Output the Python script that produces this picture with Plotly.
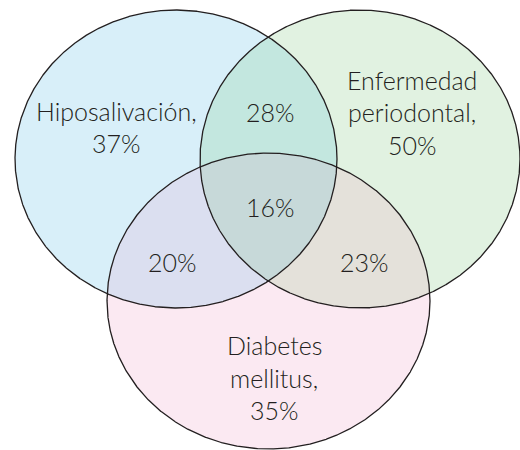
import numpy as np
import plotly.graph_objects as go

# ---- data ----
set_names = ["Hiposalivación", "Enfermedad periodontal", "Diabetes mellitus"]
set_label_lines = [["Hiposalivación,", "37%"],
                   ["Enfermedad", "periodontal,", "50%"],
                   ["Diabetes", "mellitus,", "35%"]]
set_values = [37, 50, 35]
pair_names = ["Hiposalivación ∩ Enfermedad periodontal",
              "Hiposalivación ∩ Diabetes mellitus",
              "Enfermedad periodontal ∩ Diabetes mellitus"]
pair_values = [28, 20, 23]
triple_value = 16

# ---- layout geometry (pixel-like data coordinates) ----
ellipses = [
    dict(cx=176, cy=159, rx=161, ry=149),   # Hiposalivación
    dict(cx=360, cy=159, rx=160, ry=149),   # Enfermedad periodontal
    dict(cx=268.5, cy=301, rx=161.5, ry=148),  # Diabetes mellitus
]
base_colors = ["#d8eff9", "#e1f2e1", "#fbe9f2"]
pair_sets = [(0, 1), (0, 2), (1, 2)]
pair_colors = ["#c3e7df", "#dbdff0", "#e4e1da"]
triple_color = "#c7d9d9"

set_label_pos = [(116, [111, 143]), (412, [80, 112, 145]), (274, [345, 378, 410])]
pair_label_pos = [(270, 112), (172, 262), (364, 262)]
triple_label_pos = (270, 207)

N = 3000


def ell_pts(e):
    t = np.linspace(0, 2 * np.pi, N, endpoint=False)
    return e["cx"] + e["rx"] * np.cos(t), e["cy"] + e["ry"] * np.sin(t)


def inside(x, y, e):
    return ((x - e["cx"]) / e["rx"]) ** 2 + ((y - e["cy"]) / e["ry"]) ** 2 <= 1 + 1e-9


def region(idx):
    xs, ys = [], []
    for i in idx:
        x, y = ell_pts(ellipses[i])
        m = np.ones_like(x, dtype=bool)
        for j in idx:
            if j != i:
                m &= inside(x, y, ellipses[j])
        xs.append(x[m]); ys.append(y[m])
    x = np.concatenate(xs); y = np.concatenate(ys)
    cx, cy = x.mean(), y.mean()
    order = np.argsort(np.arctan2(y - cy, x - cx))
    x, y = x[order], y[order]
    return np.append(x, x[0]), np.append(y, y[0])


fig = go.Figure()


def add_fill(x, y, color, name):
    fig.add_trace(go.Scatter(x=x, y=y, mode="lines", fill="toself", fillcolor=color,
                             line=dict(width=0, color=color), hoverinfo="skip",
                             showlegend=False, name=name))


for i, e in enumerate(ellipses):
    x, y = ell_pts(e)
    add_fill(np.append(x, x[0]), np.append(y, y[0]), base_colors[i], set_names[i])
for k, (a, b) in enumerate(pair_sets):
    x, y = region([a, b])
    add_fill(x, y, pair_colors[k], pair_names[k])
x, y = region([0, 1, 2])
add_fill(x, y, triple_color, "all")

for i, e in enumerate(ellipses):
    x, y = ell_pts(e)
    fig.add_trace(go.Scatter(x=np.append(x, x[0]), y=np.append(y, y[0]), mode="lines",
                             line=dict(color="#231f20", width=1.3), hoverinfo="skip",
                             showlegend=False))

font = dict(family="Lato, sans-serif", size=25, color="#231f20", weight=300)
for (px, pys), lines in zip(set_label_pos, set_label_lines):
    for py, txt in zip(pys, lines):
        fig.add_annotation(x=px, y=py, text=txt, showarrow=False, font=font,
                           xanchor="center", yanchor="middle")
for (px, py), v in zip(pair_label_pos, pair_values):
    fig.add_annotation(x=px, y=py, text=f"{v}%", showarrow=False, font=font,
                       xanchor="center", yanchor="middle")
fig.add_annotation(x=triple_label_pos[0], y=triple_label_pos[1], text=f"{triple_value}%",
                   showarrow=False, font=font, xanchor="center", yanchor="middle")

fig.update_layout(width=520, height=450, margin=dict(l=0, r=0, t=0, b=0),
                  paper_bgcolor="white", plot_bgcolor="white",
                  xaxis=dict(range=[0, 520], visible=False, fixedrange=True),
                  yaxis=dict(range=[450, 0], visible=False, fixedrange=True))
fig.write_html("out.html", config={"displayModeBar": False},
               post_script="document.body.style.margin='0';document.body.style.overflow='hidden';")
